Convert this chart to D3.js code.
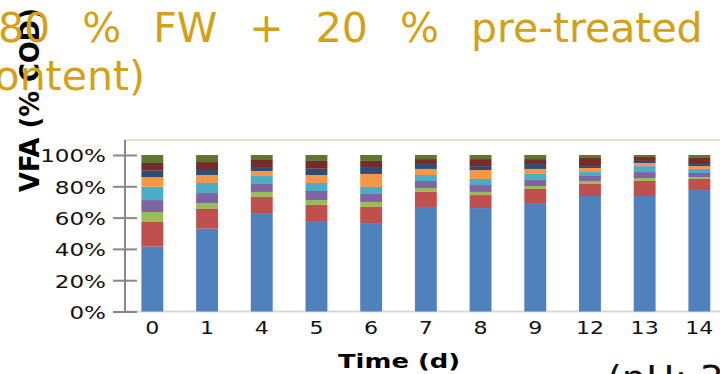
<!DOCTYPE html>
<html>
<head>
<meta charset="utf-8">
<script src="https://cdn.jsdelivr.net/npm/d3@7/dist/d3.min.js"></script>
<style>
  html, body { margin: 0; padding: 0; background: #ffffff; overflow: hidden; }
  svg { display: block; }
  text { font-family: "DejaVu Sans", Verdana, sans-serif; }
</style>
</head>
<body>
<svg id="chart" width="720" height="374"></svg>
<script>
// Sampling days
const categories = ["0", "1", "4", "5", "6", "7", "8", "9", "12", "13", "14"];

// VFA composition, % of total VFA COD, bottom to top of each bar
const acetic     = [41.4, 52.9, 62.9, 57.8, 56.5, 66.8, 66.1, 69.3, 73.8, 73.8, 77.6];
const propionic  = [15.8, 12.6, 10.3, 10.3, 10.3,  9.6,  8.3,  9.0,  7.7,  9.6,  7.1];
const isobutyric = [ 6.4,  3.8,  3.2,  3.1,  3.2,  2.5,  2.0,  1.9,  1.9,  1.9,  1.2];
const butyric    = [ 7.6,  6.4,  5.1,  5.8,  5.1,  4.5,  4.4,  3.8,  3.2,  3.8,  2.6];
const isovaleric = [ 8.5,  6.4,  5.1,  5.1,  4.5,  3.8,  3.9,  3.9,  2.5,  3.8,  2.6];
const valeric    = [ 6.2,  5.1,  3.2,  5.1,  8.3,  3.9,  5.7,  3.2,  2.6,  2.0,  1.8];
const isocaproic = [ 4.1,  3.2,  2.5,  4.0,  4.4,  3.1,  2.5,  3.1,  1.2,  1.3,  1.3];
const caproic    = [ 4.9,  5.1,  4.5,  5.0,  3.9,  3.2,  4.5,  3.2,  5.2,  2.5,  3.9];
const heptanoic  = [ 5.1,  4.5,  3.2,  3.8,  3.8,  2.6,  2.6,  2.6,  1.9,  1.3,  1.9];

const seriesKeys = ["acetic", "propionic", "isobutyric", "butyric", "isovaleric",
                    "valeric", "isocaproic", "caproic", "heptanoic"];
const seriesValues = [acetic, propionic, isobutyric, butyric, isovaleric,
                      valeric, isocaproic, caproic, heptanoic];
const seriesColors = ["#4F81BD", "#C0504D", "#9BBB59", "#8064A2", "#4BACC6",
                      "#F79646", "#2C4D75", "#772C2A", "#5F7530"];

const yTicks = [0, 20, 40, 60, 80, 100];

const titleLine1 = "80 % FW + 20 % pre-treated";
const titleLine2 = "content)";
const yTitle = "VFA (% COD)";
const xTitle = "Time (d)";
const phNote = "(pH: 3";

// Rows for d3.stack
const table = categories.map((c, i) => {
  const row = { day: c };
  seriesKeys.forEach((k, j) => { row[k] = seriesValues[j][i]; });
  return row;
});

const svg = d3.select("#chart");

const plot = { left: 125, top: 140, bottom: 311.5, right: 726.7 };

const x = d3.scaleBand()
  .domain(categories)
  .range([plot.left, plot.right])
  .paddingInner(0.6)
  .paddingOuter(0.3);

const y = d3.scaleLinear()
  .domain([0, 100])
  .range([plot.bottom, 155]);

const stacked = d3.stack()
  .keys(seriesKeys)
  .offset(d3.stackOffsetExpand)(table);

// stretch text horizontally by a factor
function stretch(sel, k) {
  sel.each(function () {
    const w = this.getComputedTextLength();
    d3.select(this).attr("textLength", w * k).attr("lengthAdjust", "spacingAndGlyphs");
  });
}

// plot frame top edge
svg.append("line")
  .attr("x1", plot.left).attr("x2", 720)
  .attr("y1", plot.top).attr("y2", plot.top)
  .attr("stroke", "#d8d4c4").attr("stroke-width", 1.5);

// x axis baseline
svg.append("line")
  .attr("x1", plot.left).attr("x2", 720)
  .attr("y1", y(0)).attr("y2", y(0))
  .attr("stroke", "#d9d9d9").attr("stroke-width", 2);

// bars
svg.append("g")
  .selectAll("g")
  .data(stacked)
  .join("g")
  .attr("fill", (d, i) => seriesColors[i])
  .selectAll("rect")
  .data(d => d)
  .join("rect")
  .attr("x", d => x(d.data.day))
  .attr("width", x.bandwidth())
  .attr("y", d => y(d[1] * 100))
  .attr("height", d => y(d[0] * 100) - y(d[1] * 100));

// y axis with crossing ticks
const yAxis = svg.append("g")
  .attr("transform", `translate(${plot.left},0)`)
  .call(d3.axisLeft(y).tickValues(yTicks).tickFormat(d => d + "%").tickSize(12).tickPadding(7));
yAxis.select(".domain").remove();
yAxis.selectAll(".tick line")
  .attr("x1", 12).attr("x2", -12)
  .attr("stroke", "#888888").attr("stroke-width", 2);
yAxis.selectAll(".tick text")
  .attr("x", -19)
  .attr("dy", "0.38em")
  .attr("fill", "#111111")
  .style("font-size", "18px")
  .call(stretch, 1.28);
yAxis.append("line")
  .attr("x1", 0).attr("x2", 0)
  .attr("y1", plot.top).attr("y2", plot.bottom)
  .attr("stroke", "#888888").attr("stroke-width", 2);

// x axis labels
const xAxis = svg.append("g")
  .attr("transform", `translate(0,${plot.bottom})`)
  .call(d3.axisBottom(x).tickSize(0).tickPadding(10));
xAxis.select(".domain").remove();
xAxis.selectAll(".tick text")
  .attr("fill", "#111111")
  .attr("dy", "0.72em")
  .style("font-size", "17px")
  .call(stretch, 1.3);

// axis titles
svg.append("text")
  .attr("transform", "translate(39,100) rotate(-90)")
  .attr("text-anchor", "middle")
  .style("font-size", "26px")
  .style("font-weight", "bold")
  .attr("fill", "#000000")
  .attr("textLength", 184)
  .attr("lengthAdjust", "spacingAndGlyphs")
  .text(yTitle);

svg.append("text")
  .attr("x", 399).attr("y", 368)
  .attr("text-anchor", "middle")
  .style("font-size", "20px")
  .style("font-weight", "bold")
  .attr("fill", "#000000")
  .attr("textLength", 122)
  .attr("lengthAdjust", "spacingAndGlyphs")
  .text(xTitle);

// chart heading
svg.append("text")
  .attr("x", -2).attr("y", 42)
  .style("font-size", "41px")
  .style("word-spacing", "19px")
  .attr("fill", "#d4a017")
  .text(titleLine1);

svg.append("text")
  .attr("x", -28).attr("y", 90)
  .style("font-size", "41px")
  .attr("fill", "#d4a017")
  .text(titleLine2);

// pH note
svg.append("text")
  .attr("x", 607).attr("y", 392)
  .style("font-size", "38px")
  .attr("fill", "#111111")
  .text(phNote);
</script>
</body>
</html>
